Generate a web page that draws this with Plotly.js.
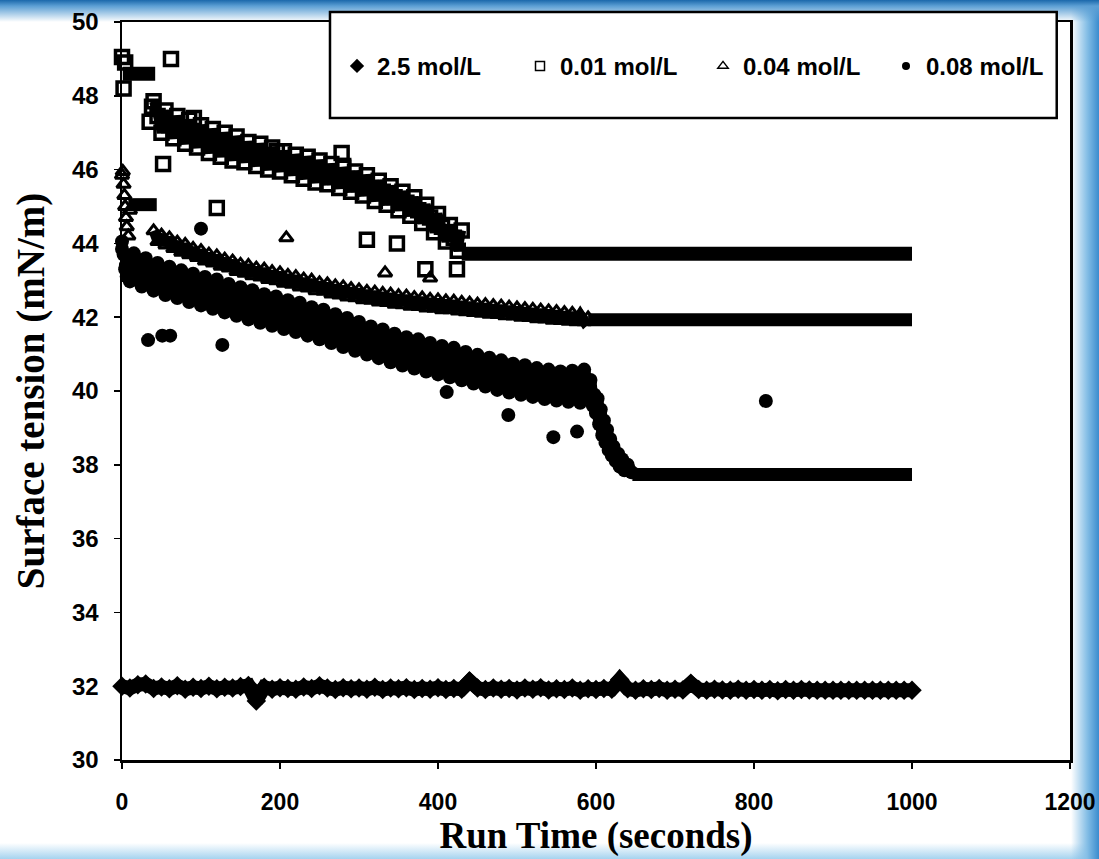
<!DOCTYPE html>
<html>
<head>
<meta charset="utf-8">
<script src="https://cdn.plot.ly/plotly-3.0.1.min.js"></script>
<style>
html,body{margin:0;padding:0;}
#frame{width:1099px;height:859px;position:relative;
background:
 linear-gradient(to bottom,#1b68ab 0px,#5c9fd4 6px,rgba(255,255,255,0) 22px),
 linear-gradient(to left,#3a8cce 0px,#86bfe6 12px,rgba(255,255,255,0) 28px),
 linear-gradient(to top,#a6d3ef 0px,rgba(255,255,255,0) 16px),
 #ffffff;}
#chart{width:1099px;height:859px;}
</style>
</head>
<body>
<div id="frame"><div id="chart"></div></div>
<script>
// ---- series names ----
const seriesNames = ['2.5 mol/L', '0.01 mol/L', '0.04 mol/L', '0.08 mol/L'];

// ---- 2.5 mol/L (filled diamonds) ----
const time2p5 = [0,10,20,30,40,50,60,70,80,90,100,110,120,130,140,150,160,170,180,190,200,210,220,230,240,250,260,270,280,290,300,310,320,330,340,350,360,370,380,390,400,410,420,430,440,450,460,470,480,490,500,510,520,530,540,550,560,570,580,590,600,610,620,630,640,650,660,670,680,690,700,710,720,730,740,750,760,770,780,790,800,810,820,830,840,850,860,870,880,890,900,910,920,930,940,950,960,970,980,990,1000];
const tension2p5 = [32.00,31.95,32.04,32.06,31.94,31.98,31.93,32.01,31.92,31.97,31.94,32.00,31.93,31.97,31.95,31.99,32.02,31.60,31.97,31.92,31.96,31.94,31.92,31.98,31.94,32.01,31.95,31.91,31.96,31.93,31.95,31.92,31.97,31.91,31.95,31.93,31.96,31.91,31.94,31.92,31.96,31.91,31.94,31.92,32.14,31.95,31.91,31.95,31.92,31.94,31.90,31.95,31.92,31.96,31.90,31.93,31.91,31.95,31.89,31.93,31.91,31.94,31.92,32.18,31.93,31.89,31.93,31.91,31.94,31.89,31.92,31.90,32.08,31.91,31.89,31.92,31.90,31.89,31.92,31.89,31.91,31.89,31.91,31.88,31.91,31.89,31.91,31.90,31.89,31.89,31.89,31.89,31.89,31.89,31.89,31.89,31.89,31.89,31.89,31.89,31.89];

// ---- 0.01 mol/L (open squares) ----
const time001 = [40,45,50,55,60,65,70,75,80,85,90,95,100,105,110,115,120,125,130,135,140,145,150,155,160,165,170,175,180,185,190,195,200,205,210,215,220,225,230,235,240,245,250,255,260,265,270,275,280,285,290,295,300,305,310,315,320,325,330,335,340,345,350,355,360,365,370,375,380,385,390,395,400,405,410,415,420,425,430];
const tension001 = [47.85,47.45,47.0,47.6,47.2,46.85,47.45,47.1,46.7,47.35,46.95,46.6,47.2,46.85,46.45,47.1,46.75,46.35,47.0,46.65,46.25,46.9,46.55,46.2,46.75,46.45,46.1,46.7,46.35,46.0,46.6,46.3,45.95,46.5,46.2,45.85,46.4,46.1,45.75,46.35,46.0,45.65,46.25,45.9,45.6,46.15,45.8,45.5,46.05,45.75,45.4,45.95,45.6,45.3,45.85,45.5,45.15,45.7,45.4,45.05,45.55,45.25,44.9,45.4,45.1,44.75,45.25,44.9,44.55,45.05,44.7,44.3,44.8,44.45,44.05,44.5,44.15,43.8,44.35];
const time001Extra = [0,2,4,35,38,52,62,91,120,196,278,280,310,348,384,424];
const tension001Extra = [49.05,48.2,48.9,47.3,47.7,46.15,49.0,47.4,44.96,46.5,46.45,46.1,44.1,44.0,43.3,43.3];
const time001Start = [1,42];
const tension001Start = [48.6,48.6];
const time001Plateau = [430,1000];
const tension001Plateau = [43.72,43.72];

// ---- 0.04 mol/L (open triangles) ----
const time004 = [40,45,50,55,60,65,70,75,80,85,90,95,100,105,110,115,120,125,130,135,140,145,150,155,160,165,170,175,180,185,190,195,200,205,210,215,220,225,230,235,240,245,250,255,260,265,270,275,280,285,290,295,300,305,310,315,320,325,330,335,340,345,350,355,360,365,370,375,380,385,390,395,400,405,410,415,420,425,430,435,440,445,450,455,460,465,470,475,480,485,490,495,500,505,510,515,520,525,530,535,540,545,550,555,560,565,570,575,580,585,590];
const tension004 = [44.34,44.05,44.22,43.96,44.15,43.86,44.03,43.76,43.97,43.69,43.86,43.62,43.8,43.52,43.71,43.47,43.66,43.38,43.57,43.33,43.52,43.24,43.43,43.19,43.4,43.12,43.33,43.09,43.3,43.02,43.23,42.99,43.2,42.92,43.13,42.89,43.1,42.82,43.03,42.79,43.0,42.72,42.93,42.7,42.9,42.63,42.85,42.6,42.82,42.55,42.77,42.53,42.74,42.47,42.7,42.46,42.68,42.41,42.64,42.4,42.62,42.35,42.58,42.34,42.57,42.3,42.53,42.29,42.52,42.25,42.48,42.24,42.47,42.2,42.44,42.2,42.43,42.17,42.4,42.15,42.38,42.13,42.35,42.11,42.34,42.08,42.31,42.07,42.3,42.04,42.27,42.03,42.25,42.0,42.23,41.99,42.21,41.96,42.19,41.95,42.17,41.92,42.15,41.91,42.12,41.89,42.1,41.88,42.06,41.88,41.98];
const time004Extra = [0,1,2,3,4,5,6,8,10,208,333,390];
const tension004Extra = [45.85,45.95,45.6,45.3,45.0,44.7,44.45,44.2,44.9,44.15,43.2,43.06];
const time004Start = [8,44];
const tension004Start = [45.05,45.05];
const time004Plateau = [590,1000];
const tension004Plateau = [41.93,41.93];

// ---- 0.08 mol/L (filled circles) ----
const time008 = [0,5,10,15,20,25,30,35,40,45,50,55,60,65,70,75,80,85,90,95,100,105,110,115,120,125,130,135,140,145,150,155,160,165,170,175,180,185,190,195,200,205,210,215,220,225,230,235,240,245,250,255,260,265,270,275,280,285,290,295,300,305,310,315,320,325,330,335,340,345,350,355,360,365,370,375,380,385,390,395,400,405,410,415,420,425,430,435,440,445,450,455,460,465,470,475,480,485,490,495,500,505,510,515,520,525,530,535,540,545,550,555,560,565,570,575,580,585,590,593,596,598,600,602,604,606,608,610,612,614,616,618,620,622,625,628,630,633,636,640,645];
const tension008 = [43.85,43.41,42.97,43.73,43.3,42.83,43.6,43.12,42.72,43.47,43.05,42.6,43.37,42.92,42.52,43.27,42.86,42.41,43.18,42.73,42.32,43.09,42.68,42.23,43.02,42.55,42.13,42.9,42.49,42.04,42.81,42.36,41.94,42.73,42.26,41.85,42.62,42.22,41.77,42.56,42.09,41.68,42.46,42.05,41.6,42.39,41.92,41.5,42.27,41.85,41.4,42.2,41.71,41.3,42.08,41.65,41.19,41.98,41.5,41.09,41.87,41.4,40.99,41.75,41.34,40.89,41.67,41.2,40.78,41.55,41.14,40.69,41.46,41.01,40.61,41.4,40.95,40.53,41.3,40.89,40.45,41.22,40.78,40.37,41.17,40.72,40.29,41.06,40.65,40.2,40.98,40.53,40.12,40.9,40.46,40.03,40.83,40.36,39.96,40.74,40.33,39.9,40.7,40.24,39.84,40.62,40.2,39.78,40.58,40.13,39.74,40.53,40.14,39.71,40.55,40.07,39.68,40.58,40.0,40.3,39.6,39.9,39.4,39.8,39.1,39.5,38.8,39.2,38.6,38.95,38.4,38.7,38.25,38.5,38.1,38.3,37.95,38.15,37.85,38.0,37.8,37.75];
const time008Extra = [0,2,4,6,33,51,61,100,127,411,489,546,576,815];
const tension008Extra = [44.05,43.7,43.3,43.1,41.38,41.5,41.5,44.4,41.25,39.97,39.35,38.75,38.9,39.73];
const time008Plateau = [646,1000];
const tension008Plateau = [37.74,37.74];

// ---- axes ----
const xTicks = [0,200,400,600,800,1000,1200];
const yTicks = [30,32,34,36,38,40,42,44,46,48,50];

const sans = "'Liberation Sans',Arial,sans-serif";
const serif = "'Liberation Serif','Times New Roman',serif";

function bar(x, y, w) {
  return {x: x, y: y, type: 'scatter', mode: 'lines', line: {color: '#000', width: w},
          showlegend: false, hoverinfo: 'skip', cliponaxis: false};
}
function band(x, y, marker, lw, name) {
  return {x: x, y: y, type: 'scatter', mode: 'lines+markers', line: {color: '#000', width: lw, simplify: false},
          marker: marker, showlegend: false, cliponaxis: false, name: name};
}
function dots(x, y, marker, name) {
  return {x: x, y: y, type: 'scatter', mode: 'markers', marker: marker,
          showlegend: false, cliponaxis: false, name: name};
}

const mCircle = {symbol: 'circle', size: 14, color: '#000'};
const mTri = {symbol: 'triangle-up-open', size: 12, color: '#000', line: {width: 3, color: '#000'}};
const mSq = {symbol: 'square-open', size: 13, color: '#000', line: {width: 3.5, color: '#000'}};
const mDia = {symbol: 'diamond', size: 15, color: '#000'};

const traces = [
  // 0.08 mol/L
  band(time008, tension008, mCircle, 12, seriesNames[3]),
  dots(time008Extra, tension008Extra, mCircle, seriesNames[3]),
  bar(time008Plateau, tension008Plateau, 13),
  // 0.04 mol/L
  band(time004, tension004, mTri, 10, seriesNames[2]),
  dots(time004Extra, tension004Extra, mTri, seriesNames[2]),
  bar(time004Start, tension004Start, 13),
  bar(time004Plateau, tension004Plateau, 13),
  // 0.01 mol/L
  band(time001, tension001, mSq, 9, seriesNames[1]),
  dots(time001Extra, tension001Extra, mSq, seriesNames[1]),
  bar(time001Start, tension001Start, 14),
  bar(time001Plateau, tension001Plateau, 14),
  // 2.5 mol/L
  band(time2p5, tension2p5, mDia, 14, seriesNames[0]),
  // legend entries
  {x: [null], y: [null], type: 'scatter', mode: 'markers', name: seriesNames[0], marker: {symbol: 'diamond', size: 11, color: '#000'}},
  {x: [null], y: [null], type: 'scatter', mode: 'markers', name: seriesNames[1], marker: {symbol: 'square-open', size: 9, color: '#000', line: {width: 1.5, color: '#000'}}},
  {x: [null], y: [null], type: 'scatter', mode: 'markers', name: seriesNames[2], marker: {symbol: 'triangle-up-open', size: 9, color: '#000', line: {width: 1.5, color: '#000'}}},
  {x: [null], y: [null], type: 'scatter', mode: 'markers', name: seriesNames[3], marker: {symbol: 'circle', size: 8, color: '#000'}}
];

const layout = {
  width: 1099, height: 859,
  margin: {l: 122, r: 29, t: 22, b: 99},
  paper_bgcolor: 'rgba(0,0,0,0)',
  plot_bgcolor: '#ffffff',
  showlegend: true,
  xaxis: {
    range: [0, 1200], tickvals: xTicks, ticktext: xTicks.map(String),
    showgrid: false, zeroline: false, showline: true, mirror: true,
    linecolor: '#000', linewidth: 2.5,
    ticks: 'outside', ticklen: 6, tickwidth: 1.5, tickcolor: '#000',
    ticklabelstandoff: 14,
    tickfont: {family: sans, size: 23, weight: 700, color: '#000'},
    title: {text: 'Run Time (seconds)', standoff: 8, font: {family: serif, size: 37, weight: 700, color: '#000'}}
  },
  yaxis: {
    range: [30, 50], tickvals: yTicks, ticktext: yTicks.map(String),
    showgrid: false, zeroline: false, showline: true, mirror: true,
    linecolor: '#000', linewidth: 2.5,
    ticks: 'outside', ticklen: 6, tickwidth: 1.5, tickcolor: '#000',
    ticklabelstandoff: 10,
    tickfont: {family: sans, size: 24, weight: 700, color: '#000'},
    title: {text: 'Surface tension (mN/m)', standoff: 16, font: {family: serif, size: 39, weight: 700, color: '#000'}}
  },
  legend: {
    orientation: 'h', x: 0.2268, xanchor: 'left', y: 0.94, yanchor: 'middle',
    bgcolor: 'rgba(0,0,0,0)', borderwidth: 0,
    entrywidth: 138, entrywidthmode: 'pixels',
    font: {family: sans, size: 24, weight: 700, color: '#000'}
  },
  shapes: [
    {type: 'rect', xref: 'paper', yref: 'paper', x0: 0.2194, x1: 0.986, y0: 0.87, y1: 1.0136,
     line: {color: '#000', width: 2.5}, fillcolor: '#ffffff', layer: 'above'}
  ]
};

Plotly.newPlot('chart', traces, layout, {displayModeBar: false, staticPlot: true});
</script>
</body>
</html>
